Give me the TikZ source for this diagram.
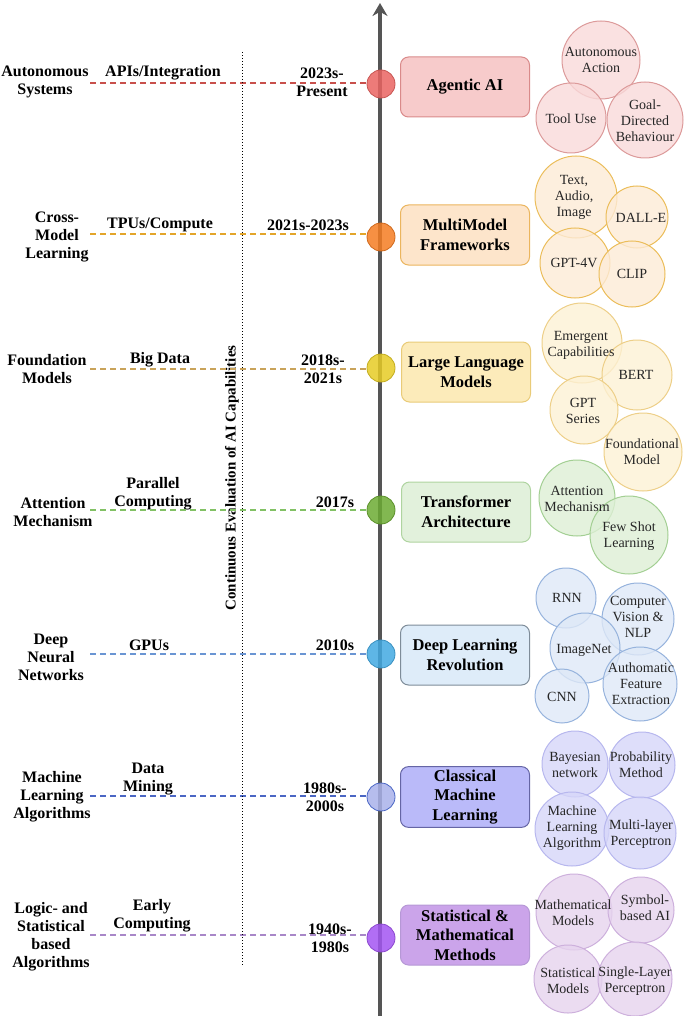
\documentclass[tikz,border=0pt]{standalone}
\usepackage{fontspec}
\setmainfont{Liberation Serif}
\usetikzlibrary{arrows.meta}

\definecolor{axisgray}{HTML}{555555}
% dots on the axis
\definecolor{dotA}{HTML}{EA6461}
\definecolor{dotB}{HTML}{F47C22}
\definecolor{dotC}{HTML}{E6CB25}
\definecolor{dotD}{HTML}{6CAB33}
\definecolor{dotE}{HTML}{42A9E2}
\definecolor{dotF}{HTML}{A9B1EA}
\definecolor{dotG}{HTML}{A355F2}
% dashed links
\definecolor{dashA}{HTML}{C8504C}
\definecolor{dashB}{HTML}{E3A52A}
\definecolor{dashC}{HTML}{C9A35A}
\definecolor{dashD}{HTML}{82C165}
\definecolor{dashE}{HTML}{6A95D3}
\definecolor{dashF}{HTML}{4A66C4}
\definecolor{dashG}{HTML}{A887C8}
% era boxes
\definecolor{boxA}{HTML}{F7CBCB}\definecolor{boxlA}{HTML}{D98A8A}
\definecolor{boxB}{HTML}{FDE5CB}\definecolor{boxlB}{HTML}{EBB55E}
\definecolor{boxC}{HTML}{FCEBBA}\definecolor{boxlC}{HTML}{E9CB78}
\definecolor{boxD}{HTML}{E2F1DC}\definecolor{boxlD}{HTML}{AFD4A0}
\definecolor{boxE}{HTML}{DEECF9}\definecolor{boxlE}{HTML}{7E8C99}
\definecolor{boxF}{HTML}{BABAF9}\definecolor{boxlF}{HTML}{6565A5}
\definecolor{boxG}{HTML}{CBA4EA}\definecolor{boxlG}{HTML}{B698D6}
% bubbles
\definecolor{bubA}{HTML}{F9D9D9}\definecolor{bublA}{HTML}{DC9A9A}
\definecolor{bubB}{HTML}{FDEBD6}\definecolor{bublB}{HTML}{EBBD5A}
\definecolor{bubC}{HTML}{FDF1D4}\definecolor{bublC}{HTML}{EDCF88}
\definecolor{bubD}{HTML}{DDEFD5}\definecolor{bublD}{HTML}{A3CF93}
\definecolor{bubE}{HTML}{DEE8F7}\definecolor{bublE}{HTML}{96B3DD}
\definecolor{bubF}{HTML}{D6D6F9}\definecolor{bublF}{HTML}{B7B7EE}
\definecolor{bubG}{HTML}{E6D3EE}\definecolor{bublG}{HTML}{CDB0DC}

\begin{document}
\begin{tikzpicture}[x=1pt,y=-1pt,
    lbl/.style={align=center,inner sep=0pt,font=\fontsize{16}{18}\selectfont\bfseries},
    link/.style={dash pattern=on 6pt off 4pt,line width=1.5pt},
    dot/.style={circle,minimum size=28pt,inner sep=0pt,fill opacity=0.85,line width=0.8pt},
    era/.style={rounded corners=8pt,minimum width=129pt,minimum height=60pt,align=center,
        line width=1pt,font=\fontsize{16.5}{19.5}\selectfont\bfseries},
    bub/.style={circle,inner sep=0pt,fill opacity=0.8,line width=1pt},
    bubtxt/.style={align=center,inner sep=0pt,text=black!85,font=\fontsize{14}{16}\selectfont}]
  \useasboundingbox (0,0) rectangle (685,1016);

  % left column labels
  \node[lbl] (agentL) at (45,82) {Autonomous\\Systems};
  \node[lbl] (mmL) at (57,237) {Cross-\\Model\\Learning};
  \node[lbl] (llmL) at (47,369) {Foundation\\Models};
  \node[lbl] (trL) at (53,512) {Attention\\Mechanism};
  \node[lbl] (dlL) at (51,657) {Deep\\Neural\\Networks};
  \node[lbl] (cmlL) at (52,797) {Machine\\Learning\\Algorithms};
  \node[lbl] (smL) at (51,937) {Logic- and\\Statistical\\based\\Algorithms};

  % enablers
  \node[lbl] (agentE) at (163,73) {APIs/Integration};
  \node[lbl] (mmE) at (160,225) {TPUs/Compute};
  \node[lbl] (llmE) at (160,360) {Big Data};
  \node[lbl] (trE) at (153,494) {Parallel\\Computing};
  \node[lbl] (dlE) at (149,645) {GPUs};
  \node[lbl] (cmlE) at (148,779) {Data\\Mining};
  \node[lbl] (smE) at (152,916) {Early\\Computing};

  % periods
  \node[lbl] (agentY) at (322,82) {2023s-\\Present};
  \node[lbl] (mmY) at (308,225) {2021s-2023s};
  \node[lbl] (llmY) at (323,369) {2018s-\\2021s};
  \node[lbl] (trY) at (335,502) {2017s};
  \node[lbl] (dlY) at (335,645) {2010s};
  \node[lbl] (cmlY) at (325,797) {1980s-\\2000s};
  \node[lbl] (smY) at (330,938) {1940s-\\1980s};

  % evaluation line
  \coordinate (evalTop) at (242,52);
  \coordinate (evalBot) at (242,965);
  \node[lbl,font=\fontsize{15}{17}\selectfont\bfseries,rotate=90] (evalL) at (232,478)
    {Continuous Evaluation of AI Capabilities};

  % time axis
  \coordinate (axBot) at (380,1016);
  \coordinate (axTop) at (380,3);
  \draw[axisgray,line width=3.5pt,-{Stealth[length=13pt,width=15pt]}] (axBot) -- (axTop);

  \node[dot,fill=dotA,draw=dotA!85!black] (agentDot) at (381,84) {};
  \node[dot,fill=dotB,draw=dotB!85!black] (mmDot) at (381,237) {};
  \node[dot,fill=dotC,draw=dotC!85!black] (llmDot) at (381,368) {};
  \node[dot,fill=dotD,draw=dotD!85!black] (trDot) at (381,510) {};
  \node[dot,fill=dotE,draw=dotE!85!black] (dlDot) at (381,654) {};
  \node[dot,fill=dotF,draw=dashF] (cmlDot) at (381,797) {};
  \node[dot,fill=dotG,draw=dotG!85!black] (smDot) at (381,938) {};

  \coordinate (agentS) at (90,83);
  \coordinate (mmS) at (90,234);
  \coordinate (llmS) at (90,369);
  \coordinate (trS) at (90,510);
  \coordinate (dlS) at (90,654);
  \coordinate (cmlS) at (90,796);
  \coordinate (smS) at (90,935);
  \draw[link,dashA] (agentS) -- (agentS -| agentDot.west);
  \draw[link,dashB] (mmS) -- (mmS -| mmDot.west);
  \draw[link,dashC] (llmS) -- (llmS -| llmDot.west);
  \draw[link,dashD] (trS) -- (trS -| trDot.west);
  \draw[link,dashE] (dlS) -- (dlS -| dlDot.west);
  \draw[link,dashF] (cmlS) -- (cmlS -| cmlDot.west);
  \draw[link,dashG] (smS) -- (smS -| smDot.west);
  \draw[dotted,line width=1pt] (evalTop) -- (evalBot);

  % era boxes
  \node[era,fill=boxA,draw=boxlA] (agentBox) at (465,87) {Agentic AI};
  \node[era,fill=boxB,draw=boxlB] (mmBox) at (465,235) {MultiModel\\Frameworks};
  \node[era,fill=boxC,draw=boxlC] (llmBox) at (466,372) {Large Language\\Models};
  \node[era,fill=boxD,draw=boxlD] (trBox) at (466,512) {Transformer\\Architecture};
  \node[era,fill=boxE,draw=boxlE] (dlBox) at (465,655) {Deep Learning\\Revolution};
  \node[era,fill=boxF,draw=boxlF] (cmlBox) at (465,797) {Classical\\Machine\\Learning};
  \node[era,fill=boxG,draw=boxlG] (smBox) at (465,935) {Statistical \&\\Mathematical\\Methods};

  % bubbles
  \node[bub,fill=bubA,draw=bublA,minimum size=78pt] (aaC) at (601,60) {};
  \node[bub,fill=bubA,draw=bublA,minimum size=70pt] (tuC) at (571,118) {};
  \node[bub,fill=bubA,draw=bublA,minimum size=76pt] (gdC) at (645,120) {};

  \node[bub,fill=bubB,draw=bublB,minimum size=82pt] (taiC) at (576,197) {};
  \node[bub,fill=bubB,draw=bublB,minimum size=62pt] (dalC) at (637,217) {};
  \node[bub,fill=bubB,draw=bublB,minimum size=70pt] (gptvC) at (575,263) {};
  \node[bub,fill=bubB,draw=bublB,minimum size=66pt] (clipC) at (632,274) {};

  \node[bub,fill=bubC,draw=bublC,minimum size=80pt] (emC) at (582,343) {};
  \node[bub,fill=bubC,draw=bublC,minimum size=70pt] (bertC) at (637,375) {};
  \node[bub,fill=bubC,draw=bublC,minimum size=68pt] (gptsC) at (584,410) {};
  \node[bub,fill=bubC,draw=bublC,minimum size=78pt] (fmC) at (643,452) {};

  \node[bub,fill=bubD,draw=bublD,minimum size=76pt] (attC) at (577,498) {};
  \node[bub,fill=bubD,draw=bublD,minimum size=78pt] (fsC) at (629,535) {};

  \node[bub,fill=bubE,draw=bublE,minimum size=60pt] (rnnC) at (566,598) {};
  \node[bub,fill=bubE,draw=bublE,minimum size=72pt] (cvC) at (638,619) {};
  \node[bub,fill=bubE,draw=bublE,minimum size=70pt] (imgC) at (585,648) {};
  \node[bub,fill=bubE,draw=bublE,minimum size=74pt] (afeC) at (640,684) {};
  \node[bub,fill=bubE,draw=bublE,minimum size=54pt] (cnnC) at (562,696) {};

  \node[bub,fill=bubF,draw=bublF,minimum size=66pt] (bayC) at (575,764) {};
  \node[bub,fill=bubF,draw=bublF,minimum size=66pt] (probC) at (642,765) {};
  \node[bub,fill=bubF,draw=bublF,minimum size=74pt] (mlaC) at (572,829) {};
  \node[bub,fill=bubF,draw=bublF,minimum size=72pt] (mlpC) at (640,833) {};

  \node[bub,fill=bubG,draw=bublG,minimum size=76pt] (mathC) at (574,912) {};
  \node[bub,fill=bubG,draw=bublG,minimum size=66pt] (symC) at (641,910) {};
  \node[bub,fill=bubG,draw=bublG,minimum size=68pt] (statC) at (568,979) {};
  \node[bub,fill=bubG,draw=bublG,minimum size=74pt] (slpC) at (635,979) {};

  % bubble texts
  \node[bubtxt] (aaT) at (601,60) {Autonomous\\Action};
  \node[bubtxt] (tuT) at (571,119) {Tool Use};
  \node[bubtxt] (gdT) at (645,121) {Goal-\\Directed\\Behaviour};
  \node[bubtxt] (taiT) at (574,197) {Text,\\Audio,\\Image};
  \node[bubtxt] (dalT) at (641,218) {DALL-E};
  \node[bubtxt] (gptvT) at (574,263) {GPT-4V};
  \node[bubtxt] (clipT) at (632,274) {CLIP};
  \node[bubtxt] (emT) at (581,345) {Emergent\\Capabilities};
  \node[bubtxt] (bertT) at (636,375) {BERT};
  \node[bubtxt] (gptsT) at (583,411) {GPT\\Series};
  \node[bubtxt] (fmT) at (642,452) {Foundational\\Model};
  \node[bubtxt] (attT) at (577,499) {Attention\\Mechanism};
  \node[bubtxt] (fsT) at (629,536) {Few Shot\\Learning};
  \node[bubtxt] (rnnT) at (567,598) {RNN};
  \node[bubtxt] (cvT) at (638,617) {Computer\\Vision \&\\NLP};
  \node[bubtxt] (imgT) at (584,650) {ImageNet};
  \node[bubtxt] (afeT) at (641,684) {Authomatic\\Feature\\Extraction};
  \node[bubtxt] (cnnT) at (562,697) {CNN};
  \node[bubtxt] (bayT) at (575,765) {Bayesian\\network};
  \node[bubtxt] (probT) at (641,765) {Probability\\Method};
  \node[bubtxt] (mlaT) at (572,828) {Machine\\Learning\\Algorithm};
  \node[bubtxt] (mlpT) at (641,834) {Multi-layer\\Perceptron};
  \node[bubtxt] (mathT) at (573,913) {Mathematical\\Models};
  \node[bubtxt] (symT) at (645,908) {Symbol-\\based AI};
  \node[bubtxt] (statT) at (568,981) {Statistical\\Models};
  \node[bubtxt] (slpT) at (635,981) {Single-Layer\\Perceptron};
\end{tikzpicture}
\end{document}
